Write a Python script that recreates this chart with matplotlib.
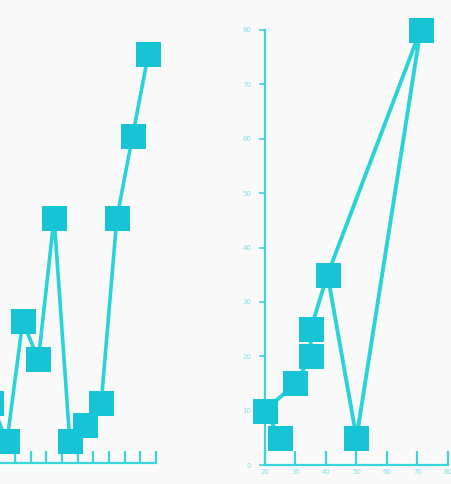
import matplotlib
matplotlib.use("Agg")
from matplotlib import pyplot as plt

# left panel (cut off at the left edge)
leftX = [0, 1, 2, 3, 4, 5, 6, 7, 8, 9, 10]
leftY = [11, 4, 26, 19, 45, 4, 7, 11, 45, 60, 75]

# right panel, points in drawing order
rightX = [25, 20, 30, 35, 35, 40.5, 50, 71, 40.5]
rightY = [5, 10, 15, 20, 25, 35, 5, 80, 35]
rightXTicks = [20, 30, 40, 50, 60, 70, 80]
rightYTicks = [0, 10, 20, 30, 40, 50, 60, 70, 80]

bg = "#f9f9f9"
lineColor = "#2ad3da"
markerColor = "#17c4d5"
axisColor = "#3ad5db"
labelColor = "#86dfe3"

W, H = 452, 484
fig = plt.figure(figsize=(W / 100, H / 100), dpi=100, facecolor=bg)


def px(left, bottom, width, height):
    # pixel box (top-left origin) to figure fraction
    return [left / W, (H - bottom) / H, width / W, height / H]


def style(ax):
    ax.set_facecolor("none")
    for side in ["top", "right"]:
        ax.spines[side].set_visible(False)
    for side in ["left", "bottom"]:
        ax.spines[side].set_color(axisColor)
        ax.spines[side].set_linewidth(1.6)


# left panel
step = 15.7
x0 = 7 - step          # pixel of x=0
xl = x0 - step         # pixel of xlim left (-1)
xr = x0 + step * 10.5  # pixel of xlim right
ax1 = fig.add_axes(px(xl, 463, xr - xl, 436))
style(ax1)
ax1.spines["left"].set_visible(False)
ax1.set_xlim(-1, 10.5)
ax1.set_ylim(0, 80)
ax1.set_xticks([i + 0.5 for i in range(1, 11)])
ax1.set_xticklabels([])
ax1.set_yticks([])
ax1.tick_params(axis="x", direction="in", length=9, width=1.6, color=axisColor)
ax1.plot(leftX, leftY, color=lineColor, lw=2.6, marker="s", markersize=18,
         markerfacecolor=markerColor, markeredgecolor=markerColor,
         markeredgewidth=0, clip_on=False, zorder=3)

# right panel
ax2 = fig.add_axes(px(265, 465, 183, 435))
style(ax2)
ax2.set_xlim(20, 80)
ax2.set_ylim(0, 80)
ax2.set_xticks(rightXTicks)
ax2.set_yticks(rightYTicks)
ax2.tick_params(axis="x", direction="in", length=10, width=1.6, color=axisColor,
                labelsize=5, labelcolor=labelColor, pad=3)
ax2.tick_params(axis="y", direction="out", length=4, width=1.2, color=axisColor,
                labelsize=5, labelcolor=labelColor, pad=6)
ax2.plot(rightX, rightY, color=lineColor, lw=2.8, marker="s", markersize=18,
         markerfacecolor=markerColor, markeredgecolor=markerColor,
         markeredgewidth=0, clip_on=False, zorder=3)

fig.savefig("out.png", dpi=100, facecolor=bg)
